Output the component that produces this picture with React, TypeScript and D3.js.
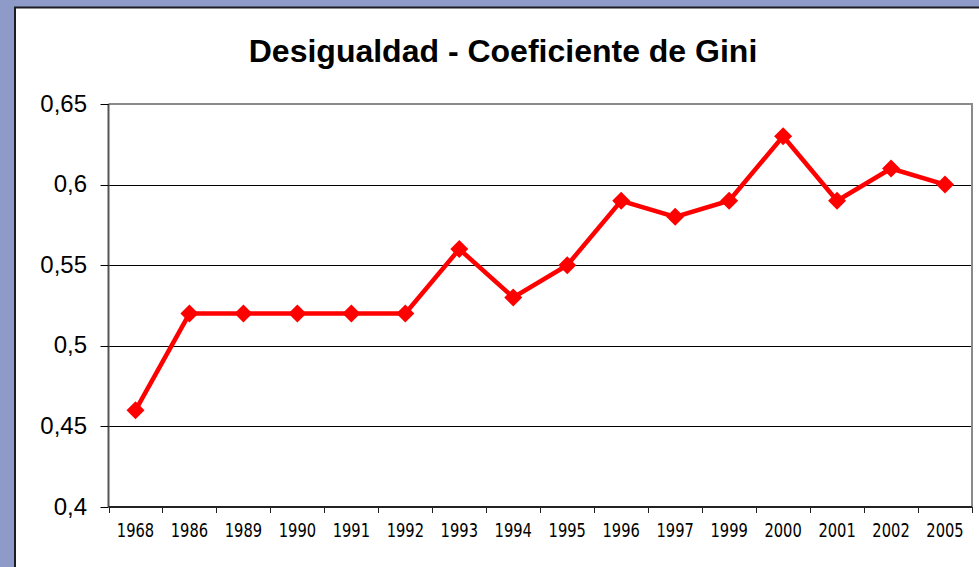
import React from "react";
import * as d3 from "d3";

const title = "Desigualdad - Coeficiente de Gini";
const years = ["1968", "1986", "1989", "1990", "1991", "1992", "1993", "1994", "1995", "1996", "1997", "1999", "2000", "2001", "2002", "2005"];
const gini = [0.46, 0.52, 0.52, 0.52, 0.52, 0.52, 0.56, 0.53, 0.55, 0.59, 0.58, 0.59, 0.63, 0.59, 0.61, 0.6];
const yTicks = [0.4, 0.45, 0.5, 0.55, 0.6, 0.65];

const W = 979;
const H = 567;
const plot = { left: 108.5, right: 972, top: 104, bottom: 507 };

export default function App() {
  const x = d3.scaleBand<string>().domain(years).range([plot.left, plot.right]).paddingInner(0).paddingOuter(0);
  const y = d3.scaleLinear().domain([0.4, 0.65]).range([plot.bottom, plot.top]);
  const cx = (d: string) => (x(d) ?? 0) + x.bandwidth() / 2;
  const line = d3
    .line<number>()
    .x((_, i) => cx(years[i]))
    .y((v) => y(v));
  const fmt = (v: number) => String(+v.toFixed(2)).replace(".", ",");
  const boundaries = years.map((d) => x(d) ?? 0).concat([plot.right]);
  const r = 9;

  return (
    <svg
      width={W}
      height={H}
      style={{ position: "fixed", left: 0, top: 0, display: "block" }}
      xmlns="http://www.w3.org/2000/svg"
    >
      <rect x={0} y={0} width={W} height={H} fill="#8e9ac8" />
      <rect x={15} y={7.5} width={W + 20} height={H + 20} fill="#ffffff" stroke="#1c1c24" strokeWidth={2} />
      <text
        x={503}
        y={62}
        textAnchor="middle"
        fontFamily="Liberation Sans, Arial, sans-serif"
        fontWeight="bold"
        fontSize={32}
        fill="#000"
      >
        {title}
      </text>
      {yTicks
        .filter((t) => t > 0.4 && t < 0.65)
        .map((t) => (
          <line key={"g" + t} x1={plot.left} x2={plot.right} y1={Math.round(y(t)) + 0.5} y2={Math.round(y(t)) + 0.5} stroke="#000" strokeWidth={1} />
        ))}
      <line x1={plot.left} x2={plot.right} y1={plot.top} y2={plot.top} stroke="#8a8a8a" strokeWidth={2} />
      <line x1={plot.right} x2={plot.right} y1={plot.top - 1} y2={plot.bottom} stroke="#8a8a8a" strokeWidth={2} />
      <line x1={plot.left} x2={plot.left} y1={plot.top} y2={plot.bottom} stroke="#555" strokeWidth={2} />
      {yTicks.map((t) => (
        <g key={"y" + t}>
          <line x1={plot.left - 8} x2={plot.left} y1={Math.round(y(t)) + 0.5} y2={Math.round(y(t)) + 0.5} stroke="#000" strokeWidth={1} />
          <text
            x={87}
            y={y(t) + 7.5}
            textAnchor="end"
            fontFamily="Liberation Sans, Arial, sans-serif"
            fontSize={24}
            fill="#000"
          >
            {fmt(t)}
          </text>
        </g>
      ))}
      <line x1={plot.left} x2={plot.right} y1={plot.bottom} y2={plot.bottom} stroke="#222" strokeWidth={2} />
      {boundaries.map((b, i) => (
        <line key={"xt" + i} x1={Math.round(b) + 0.5} x2={Math.round(b) + 0.5} y1={plot.bottom} y2={plot.bottom + 6} stroke="#222" strokeWidth={1} />
      ))}
      {years.map((d) => (
        <text
          key={"xl" + d}
          transform={`translate(${cx(d)},537) scale(0.86,1)`}
          textAnchor="middle"
          fontFamily="DejaVu Sans Condensed, DejaVu Sans, sans-serif"
          fontSize={19}
          fill="#000"
        >
          {d}
        </text>
      ))}
      <path d={line(gini) ?? ""} fill="none" stroke="#ff0000" strokeWidth={4.5} strokeLinejoin="miter" />
      {gini.map((v, i) => {
        const px = cx(years[i]);
        const py = y(v);
        return (
          <path
            key={"m" + i}
            d={`M${px},${py - r}L${px + r},${py}L${px},${py + r}L${px - r},${py}Z`}
            fill="#ff0000"
          />
        );
      })}
    </svg>
  );
}
